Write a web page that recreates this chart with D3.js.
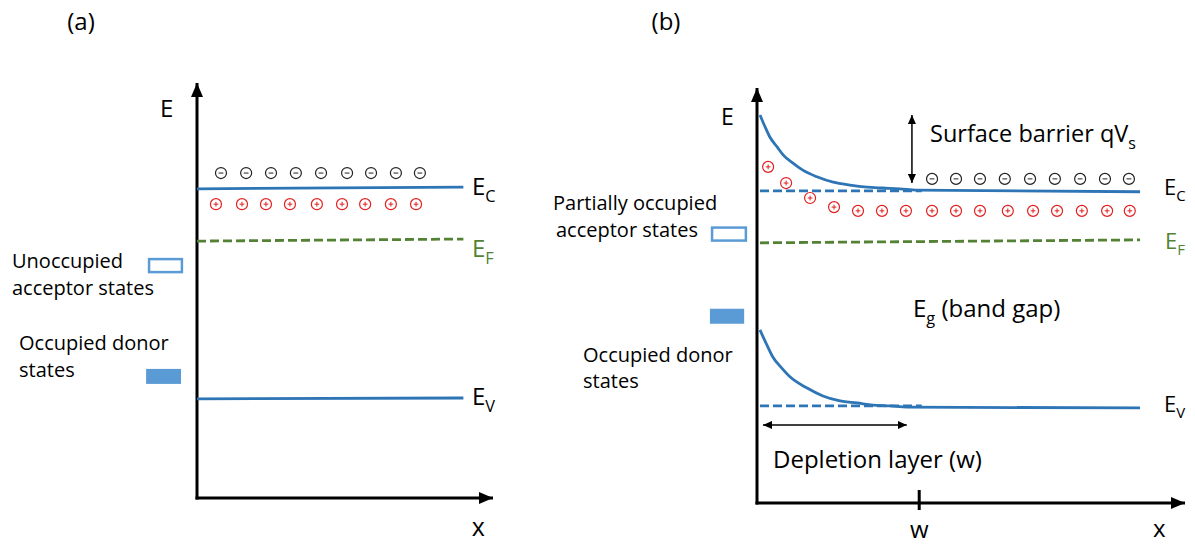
<!DOCTYPE html>
<html>
<head>
<meta charset="utf-8">
<script src="https://cdn.jsdelivr.net/npm/d3@7"></script>
<style>
  body { margin: 0; background: #fff; }
  text { font-family: "Open Sans", sans-serif; fill: #000; }
</style>
</head>
<body>
<div id="chart"></div>
<script>
// ---- data (x = depth, E = energy, arbitrary units) ----
// panel (a): flat bands
var ecA = [[0, 7.45], [9, 7.49]];
var efA = [[0, 6.19], [9, 6.24]];
var evA = [[0, 2.39], [9, 2.41]];
var electronsA = [0.81, 1.66, 2.5, 3.34, 4.19, 5.07, 5.88, 6.72, 7.53];
var electronEA = 7.83;
var donorsA = [0.64, 1.52, 2.33, 3.14, 4.05, 4.9, 5.68, 6.55, 7.4];
var donorEA = 7.08;
var statesA = [
  { x0: -1.62, x1: -0.51, e: 5.6, filled: false },
  { x0: -1.72, x1: -0.54, e: 2.93, filled: true }
];

// panel (b): band bending at the surface
var ecCurveB = [[0.07, 9.35], [0.19, 9.06], [0.30, 8.82], [0.47, 8.58], [0.61, 8.39], [0.84, 8.19],
  [1.07, 8.02], [1.40, 7.86], [1.78, 7.73], [2.17, 7.66], [2.57, 7.61], [2.94, 7.59], [3.34, 7.57],
  [3.74, 7.54], [8.95, 7.50]];
var evCurveB = [[0.07, 4.17], [0.23, 3.81], [0.37, 3.52], [0.58, 3.25], [0.77, 3.04], [1.17, 2.77],
  [1.54, 2.58], [1.94, 2.46], [2.34, 2.41], [2.71, 2.36], [3.11, 2.34], [3.50, 2.31], [8.95, 2.29]];
var ecFlatB = [[0.07, 7.52], [3.85, 7.52]];
var evFlatB = [[0.07, 2.34], [3.85, 2.34]];
var efB = [[0.07, 6.27], [8.95, 6.34]];
var electronsB = [4.09, 4.65, 5.21, 5.79, 6.38, 6.96, 7.55, 8.13, 8.69];
var electronEB = 7.81;
var donorsB = [[0.26, 8.10], [0.68, 7.71], [1.24, 7.35], [1.80, 7.13], [2.36, 7.04], [2.92, 7.04],
  [3.48, 7.04], [4.09, 7.04], [4.65, 7.04], [5.21, 7.04], [5.86, 7.04], [6.45, 7.04], [7.01, 7.04],
  [7.59, 7.04], [8.18, 7.04], [8.71, 7.04]];
var statesB = [
  { x0: -1.05, x1: -0.26, e: 6.48, filled: false },
  { x0: -1.1, x1: -0.3, e: 4.5, filled: true }
];
var depletionW = 3.79;
var barrier = { x: 3.62, top: 9.35, bottom: 7.71 };
var depletionArrow = { x0: 0.14, x1: 3.5, e: 1.88 };

var blue = "#2e75b6", boxBlue = "#5b9bd5", green = "#548235", red = "#e0201f";

var svg = d3.select("#chart").append("svg")
  .attr("width", 1195)
  .attr("height", 545);

var defs = svg.append("defs");
function marker(id, w, h) {
  defs.append("marker")
    .attr("id", id)
    .attr("markerUnits", "userSpaceOnUse")
    .attr("markerWidth", w).attr("markerHeight", h)
    .attr("viewBox", `0 0 ${w} ${h}`)
    .attr("refX", w).attr("refY", h / 2)
    .attr("orient", "auto-start-reverse")
    .append("path")
    .attr("d", `M0,0 L${w},${h / 2} L0,${h} Z`)
    .attr("fill", "#000");
}
marker("axisHead", 14, 12);
marker("smallHead", 9, 8);

var xA = d3.scaleLinear().domain([0, 10]).range([197, 493]);
var yA = d3.scaleLinear().domain([0, 10]).range([498, 83]);
var xB = d3.scaleLinear().domain([0, 10]).range([757, 1185]);
var yB = d3.scaleLinear().domain([0, 10]).range([503, 88]);

// text with optional subscript and trailing text
function label(x, y, main, sub, size, color, anchor, after) {
  var t = svg.append("text")
    .attr("x", x).attr("y", y)
    .attr("font-size", size)
    .attr("text-anchor", anchor || "start")
    .style("fill", color || "#000");
  t.append("tspan").text(main);
  if (sub) {
    t.append("tspan").attr("dy", size * 0.28).attr("font-size", size * 0.68).text(sub);
  }
  if (after) {
    t.append("tspan").attr("dy", -size * 0.28).text(after);
  }
  return t;
}

function drawAxes(x, y) {
  svg.append("line")
    .attr("x1", x(0)).attr("y1", y(0) + 1.5)
    .attr("x2", x(0)).attr("y2", y(10))
    .attr("stroke", "#000").attr("stroke-width", 3)
    .attr("marker-end", "url(#axisHead)");
  svg.append("line")
    .attr("x1", x(0) - 1.5).attr("y1", y(0))
    .attr("x2", x(10)).attr("y2", y(0))
    .attr("stroke", "#000").attr("stroke-width", 3)
    .attr("marker-end", "url(#axisHead)");
}

function band(data, x, y, color, dashed, curved) {
  var line = d3.line().x(d => x(d[0])).y(d => y(d[1]));
  if (curved) line.curve(d3.curveMonotoneX);
  svg.append("path")
    .attr("d", line(data))
    .attr("fill", "none")
    .attr("stroke", color)
    .attr("stroke-width", 2.8)
    .attr("stroke-dasharray", dashed ? "9,4" : null);
}

function charges(pts, x, y, sign) {
  var g = svg.append("g").selectAll("g").data(pts).enter().append("g")
    .attr("transform", d => `translate(${x(d[0])},${y(d[1])})`);
  var c = sign > 0 ? red : "#222";
  g.append("circle").attr("r", 5.5)
    .attr("fill", "#fff").attr("stroke", c).attr("stroke-width", 1.2);
  g.append("line").attr("x1", -2.4).attr("x2", 2.4)
    .attr("stroke", c).attr("stroke-width", 1);
  if (sign > 0) {
    g.append("line").attr("y1", -2.4).attr("y2", 2.4)
      .attr("stroke", c).attr("stroke-width", 1);
  }
}

function states(list, x, y) {
  list.forEach(function (s) {
    var h = s.filled ? 15 : 13;
    svg.append("rect")
      .attr("x", x(s.x0)).attr("y", y(s.e) - h / 2)
      .attr("width", x(s.x1) - x(s.x0)).attr("height", h)
      .attr("fill", s.filled ? boxBlue : "#fff")
      .attr("stroke", s.filled ? "none" : boxBlue)
      .attr("stroke-width", 2.5);
  });
}

// ---------- panel (a) ----------
label(81, 30, "(a)", null, 24, "#000", "middle");
drawAxes(xA, yA);
label(160, 117, "E", null, 24);
label(xA(9.5), 536, "x", null, 25, "#000", "middle");

band(ecA, xA, yA, blue, false, false);
band(efA, xA, yA, green, true, false);
band(evA, xA, yA, blue, false, false);

charges(electronsA.map(v => [v, electronEA]), xA, yA, -1);
charges(donorsA.map(v => [v, donorEA]), xA, yA, 1);
states(statesA, xA, yA);

label(472, 195, "E", "C", 24);
label(472, 257, "E", "F", 24, green);
label(472, 405, "E", "V", 24);

label(12, 268, "Unoccupied", null, 20);
label(12, 295, "acceptor states", null, 20);
label(19, 350, "Occupied donor", null, 20);
label(19, 377, "states", null, 20);

// ---------- panel (b) ----------
label(666, 30, "(b)", null, 24, "#000", "middle");
drawAxes(xB, yB);
label(721, 125, "E", null, 23);
label(xB(9.4), 537, "x", null, 24, "#000", "middle");

band(ecCurveB, xB, yB, blue, false, true);
band(ecFlatB, xB, yB, blue, true, false);
band(efB, xB, yB, green, true, false);
band(evCurveB, xB, yB, blue, false, true);
band(evFlatB, xB, yB, blue, true, false);

charges(electronsB.map(v => [v, electronEB]), xB, yB, -1);
charges(donorsB, xB, yB, 1);
states(statesB, xB, yB);

// w tick
svg.append("line")
  .attr("x1", xB(depletionW)).attr("x2", xB(depletionW))
  .attr("y1", yB(0) - 13).attr("y2", yB(0) + 7)
  .attr("stroke", "#000").attr("stroke-width", 3);
label(xB(depletionW), 538, "w", null, 24, "#000", "middle");

// surface barrier arrow
svg.append("line")
  .attr("x1", xB(barrier.x)).attr("x2", xB(barrier.x))
  .attr("y1", yB(barrier.top)).attr("y2", yB(barrier.bottom))
  .attr("stroke", "#000").attr("stroke-width", 1.5)
  .attr("marker-start", "url(#smallHead)")
  .attr("marker-end", "url(#smallHead)");
label(930, 142, "Surface barrier qV", "s", 23.5);

// depletion arrow
svg.append("line")
  .attr("x1", xB(depletionArrow.x0)).attr("x2", xB(depletionArrow.x1))
  .attr("y1", yB(depletionArrow.e)).attr("y2", yB(depletionArrow.e))
  .attr("stroke", "#000").attr("stroke-width", 1.5)
  .attr("marker-start", "url(#smallHead)")
  .attr("marker-end", "url(#smallHead)");
label(773, 468, "Depletion layer (w)", null, 24);

label(913, 317, "E", "g", 24, "#000", "start", " (band gap)");

label(1164, 195, "E", "C", 22);
label(1165, 249, "E", "F", 22, green);
label(1164, 412, "E", "V", 22);

label(553, 210, "Partially occupied", null, 20);
label(556, 237, "acceptor states", null, 20);
label(583, 362, "Occupied donor", null, 20);
label(583, 388, "states", null, 20);
</script>
</body>
</html>
